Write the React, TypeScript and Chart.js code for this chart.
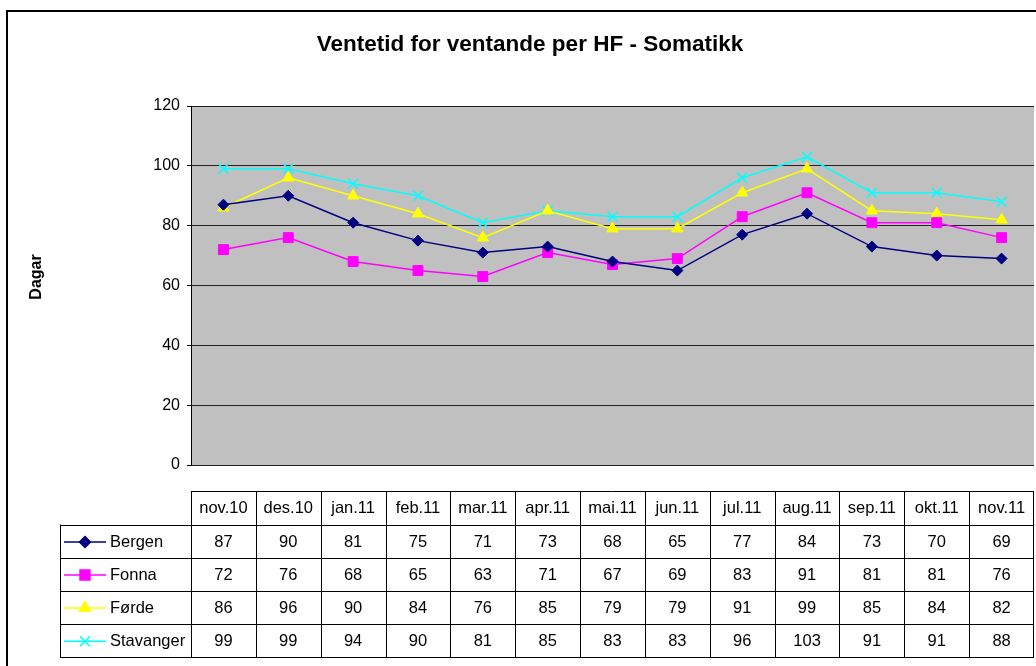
import React, { useEffect, useRef } from 'react';
import { Chart, registerables } from 'chart.js';
import * as helpers from 'chart.js/helpers';

Chart.register(...registerables);

const categories = ['nov.10', 'des.10', 'jan.11', 'feb.11', 'mar.11', 'apr.11', 'mai.11', 'jun.11', 'jul.11', 'aug.11', 'sep.11', 'okt.11', 'nov.11'];
const bergen = [87, 90, 81, 75, 71, 73, 68, 65, 77, 84, 73, 70, 69];
const fonna = [72, 76, 68, 65, 63, 71, 67, 69, 83, 91, 81, 81, 76];
const forde = [86, 96, 90, 84, 76, 85, 79, 79, 91, 99, 85, 84, 82];
const stavanger = [99, 99, 94, 90, 81, 85, 83, 83, 96, 103, 91, 91, 88];
const seriesNames = ['Bergen', 'Fonna', 'Førde', 'Stavanger'];
const seriesColors = ['#000080', '#FF00FF', '#FFFF00', '#00FFFF'];
const seriesMarkers = ['rectRot', 'rect', 'triangle', 'crossRot'];
const yMin = 0;
const yMax = 120;
const yStep = 20;
const chartTitle = 'Ventetid for ventande per HF - Somatikk';
const yTitle = 'Dagar';

const FONT = '"Liberation Sans", Arial, sans-serif';

export default function App() {
  const ref = useRef<HTMLCanvasElement | null>(null);

  useEffect(() => {
    const canvas = ref.current;
    if (!canvas) return;
    const seriesData = [bergen, fonna, forde, stavanger];
    const radii = [5.5, 7, 6.5, 7];
    const widths = [1.5, 1.5, 1.5, 1.5];

    const decor = {
      id: 'decor',
      beforeDraw(chart: any) {
        const { ctx, chartArea } = chart;
        ctx.save();
        ctx.fillStyle = '#ffffff';
        ctx.fillRect(0, 0, chart.width, chart.height);
        ctx.fillStyle = '#C0C0C0';
        ctx.fillRect(chartArea.left, chartArea.top, chartArea.right - chartArea.left, chartArea.bottom - chartArea.top);
        ctx.restore();
      },
      afterDraw(chart: any) {
        const { ctx, chartArea } = chart;
        const xs = chart.scales.x;
        ctx.save();
        // outer border
        ctx.strokeStyle = '#000';
        ctx.lineWidth = 2;
        ctx.strokeRect(7, 11, 1200, 1000);
        // title
        ctx.fillStyle = '#000';
        ctx.font = 'bold 22.5px ' + FONT;
        ctx.textAlign = 'center';
        ctx.textBaseline = 'middle';
        ctx.fillText(chartTitle, 530, 45);
        // y title
        ctx.save();
        ctx.translate(37, 277);
        ctx.rotate(-Math.PI / 2);
        ctx.font = 'bold 16px ' + FONT;
        ctx.fillText(yTitle, 0, 0);
        ctx.restore();

        // data table
        const colW = xs.getPixelForValue(1) - xs.getPixelForValue(0);
        const left = chartArea.left;
        const right = xs.getPixelForValue(categories.length - 1) + colW / 2;
        const labelLeft = 60;
        const rows = [491, 524.5, 557.5, 590.5, 623.5, 657];
        ctx.lineWidth = 1;
        ctx.strokeStyle = '#000';
        const hl = (x1: number, x2: number, y: number) => {
          ctx.beginPath();
          ctx.moveTo(x1, Math.round(y) + 0.5);
          ctx.lineTo(x2, Math.round(y) + 0.5);
          ctx.stroke();
        };
        const vl = (x: number, y1: number, y2: number) => {
          ctx.beginPath();
          ctx.moveTo(Math.round(x) + 0.5, y1);
          ctx.lineTo(Math.round(x) + 0.5, y2);
          ctx.stroke();
        };
        hl(left, right, rows[0]);
        for (let r = 1; r < rows.length; r++) hl(labelLeft, right, rows[r]);
        vl(labelLeft, rows[1], rows[5]);
        for (let i = 0; i <= categories.length; i++) {
          vl(Math.min(left + i * colW, right - 1), rows[0], rows[5]);
        }
        ctx.font = '16.5px ' + FONT;
        ctx.textAlign = 'center';
        ctx.textBaseline = 'middle';
        ctx.fillStyle = '#000';
        categories.forEach((c, i) => {
          ctx.fillText(c, xs.getPixelForValue(i), (rows[0] + rows[1]) / 2 + 1);
        });
        seriesData.forEach((arr, s) => {
          const cy = (rows[s + 1] + rows[s + 2]) / 2 + 1;
          arr.forEach((v, i) => {
            ctx.fillText(String(v), xs.getPixelForValue(i), cy);
          });
          // legend key
          ctx.strokeStyle = seriesColors[s];
          ctx.lineWidth = widths[s];
          ctx.beginPath();
          ctx.moveTo(64, cy);
          ctx.lineTo(106, cy);
          ctx.stroke();
          ctx.fillStyle = seriesColors[s];
          (helpers as any).drawPoint(ctx, {
            pointStyle: seriesMarkers[s],
            radius: radii[s],
            rotation: 0,
            borderWidth: seriesMarkers[s] === 'crossRot' ? 1.5 : 1,
          }, 85, cy);
          ctx.fillStyle = '#000';
          ctx.textAlign = 'left';
          ctx.fillText(seriesNames[s], 110, cy);
          ctx.textAlign = 'center';
        });
        ctx.restore();
      },
    };

    const chart = new Chart(canvas, {
      type: 'line',
      data: {
        labels: categories,
        datasets: seriesData.map((d, s) => ({
          label: seriesNames[s],
          data: d,
          borderColor: seriesColors[s],
          backgroundColor: seriesColors[s],
          borderWidth: widths[s],
          pointStyle: seriesMarkers[s] as any,
          pointRadius: radii[s],
          pointBorderWidth: seriesMarkers[s] === 'crossRot' ? 1.5 : 1,
          pointBorderColor: seriesColors[s],
          pointBackgroundColor: seriesColors[s],
          tension: 0,
          fill: false,
        })),
      },
      options: {
        responsive: false,
        animation: false,
        devicePixelRatio: 1,
        layout: { autoPadding: false, padding: { left: 0, top: 106, right: 2, bottom: 201 } },
        plugins: {
          legend: { display: false },
          title: { display: false },
          tooltip: { enabled: false },
        },
        scales: {
          x: {
            display: false,
            offset: true,
          },
          y: {
            min: yMin,
            max: yMax,
            ticks: {
              stepSize: yStep,
              color: '#000',
              padding: 7,
              font: { family: FONT, size: 16 },
            },
            grid: {
              color: '#202020',
              lineWidth: 1,
              tickLength: 4,
              tickColor: '#000',
            },
            border: { display: true, color: '#000', width: 1 },
            afterFit(scale: any) {
              scale.width = 191;
            },
          },
        },
      },
      plugins: [decor],
    });
    return () => chart.destroy();
  }, []);

  return (
    <div style={{ position: 'fixed', left: 0, top: 0, width: 1036, height: 666, background: '#fff' }}>
      <canvas ref={ref} width={1036} height={666} style={{ display: 'block', width: 1036, height: 666 }} />
    </div>
  );
}
